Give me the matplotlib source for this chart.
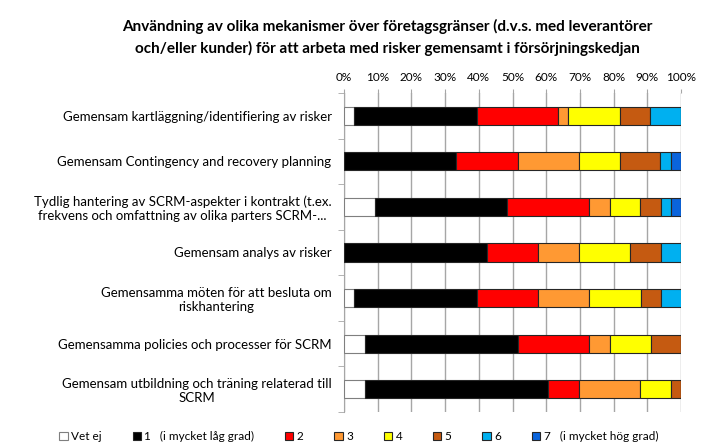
import matplotlib
matplotlib.use("Agg")
import matplotlib.pyplot as plt
from matplotlib.patches import Patch
from matplotlib.ticker import FixedLocator, PercentFormatter

plt.rcParams['font.family'] = ['Lato', 'DejaVu Sans']

title = ("Användning av olika mekanismer över företagsgränser (d.v.s. med leverantörer\n"
         "och/eller kunder) för att arbeta med risker gemensamt i försörjningskedjan")

categories = [
    "Gemensam kartläggning/identifiering av risker",
    "Gemensam Contingency and recovery planning",
    "Tydlig hantering av SCRM-aspekter i kontrakt (t.ex.\nfrekvens och omfattning av olika parters SCRM-...",
    "Gemensam analys av risker",
    "Gemensamma möten för att besluta om\nriskhantering",
    "Gemensamma policies och processer för SCRM",
    "Gemensam utbildning och träning relaterad till\nSCRM",
]

series_names = ["Vet ej", "1   (i mycket låg grad)", "2", "3", "4", "5", "6",
                "7   (i mycket hög grad)"]

# percentages per category (rows follow categories order)
vet_ej = [3.0, 0.0, 9.1, 0.0, 3.0, 6.1, 6.1]
s1 = [36.4, 33.3, 39.4, 42.4, 36.4, 45.5, 54.5]
s2 = [24.2, 18.2, 24.2, 15.2, 18.2, 21.2, 9.1]
s3 = [3.0, 18.2, 6.1, 12.1, 15.2, 6.1, 18.2]
s4 = [15.2, 12.1, 9.1, 15.2, 15.2, 12.1, 9.1]
s5 = [9.1, 12.1, 6.1, 9.1, 6.1, 9.1, 3.0]
s6 = [9.1, 3.0, 3.0, 6.1, 6.1, 0.0, 0.0]
s7 = [0.0, 3.0, 3.0, 0.0, 0.0, 0.0, 0.0]
series_values = [vet_ej, s1, s2, s3, s4, s5, s6, s7]

colors = ["#FFFFFF", "#000000", "#FF0000", "#FF9933", "#FFFF00", "#C55A11",
          "#00B0F0", "#0A64DC"]
edgecolors = ["#7F7F7F"] + ["#262626"] * 7

fig = plt.figure(figsize=(7.09, 4.48), dpi=100)
ax = fig.add_axes([0.4852, 0.0804, 0.4753, 0.712])

ypos = list(range(len(categories)))
left = [0.0] * len(categories)
for name, vals, c, ec in zip(series_names, series_values, colors, edgecolors):
    ax.barh(ypos, vals, left=left, height=0.4, color=c, edgecolor=ec,
            linewidth=0.8, label=name, zorder=3)
    left = [l + v for l, v in zip(left, vals)]

ax.set_xlim(0, 100)
ax.set_ylim(len(categories) - 0.5, -0.5)
ax.xaxis.set_major_locator(FixedLocator(range(0, 101, 10)))
ax.xaxis.set_major_formatter(PercentFormatter(decimals=0))
ax.xaxis.tick_top()
ax.tick_params(axis='x', length=3, color="#A6A6A6", labelsize=8.5, pad=4,
               labelcolor="#000000")
ax.grid(axis='x', color="#A6A6A6", linewidth=1.0, zorder=0)

ax.set_yticks(ypos)
ax.set_yticklabels(categories, fontsize=9.5)
for lab in ax.get_yticklabels():
    lab.set_multialignment('center')
ax.yaxis.set_minor_locator(FixedLocator([i - 0.5 for i in range(len(categories) + 1)]))
ax.tick_params(axis='y', which='major', length=0, pad=9)
ax.tick_params(axis='y', which='minor', length=4, color="#A6A6A6")

for s in ['top', 'bottom', 'right']:
    ax.spines[s].set_visible(False)
ax.spines['left'].set_color("#A6A6A6")

fig.text(0.546, 0.958, title, ha='center', va='top', fontsize=11,
         fontweight='bold', linespacing=1.55)

handles = [Patch(facecolor=c, edgecolor=ec, linewidth=0.8)
           for c, ec in zip(colors, edgecolors)]
fig.legend(handles, series_names, loc='center', bbox_to_anchor=(0.506, 0.025),
           ncol=8, frameon=False, fontsize=8.5, handlelength=0.7, handleheight=0.7,
           handletextpad=0.3, columnspacing=2.6)

fig.savefig("out.png", dpi=100)
